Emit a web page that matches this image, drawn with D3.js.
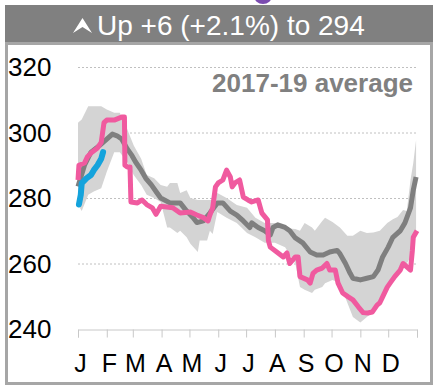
<!DOCTYPE html>
<html><head><meta charset="utf-8">
<script src="https://cdn.jsdelivr.net/npm/d3@7"></script>
<style>
html,body{margin:0;padding:0;background:#fff;}
svg{display:block;font-family:"Liberation Sans",Arial,sans-serif;}
</style></head>
<body>
<svg id="chart" width="440" height="391"></svg>
<script>
// ---- data ----
const headerText = "Up +6 (+2.1%) to 294";
const legendText = "2017-19 average";
const yTicks = [240, 260, 280, 300, 320];
const monthStarts = [0, 31, 59, 90, 120, 151, 181, 212, 243, 273, 304, 334, 365];
const monthLabels = ["J","F","M","A","M","J","J","A","S","O","N","D"];

// 2017-19 range band
const bandDays  = [0,4,11,17,25,31,39,45,53,60,68,74,82,89,96,99,107,110,117,121,129,131,139,142,145,150,160,171,182,191,201,212,223,234,239,244,252,255,263,266,274,282,290,296,304,311,318,325,333,339,344,350,354,358,361,364];
const bandUpper = [303,304,308,308,308,307,306,306,301,296,292,287,286,284,283.4,284.6,284.6,281.5,282.4,280,279.4,279.4,279.4,279.4,279.4,281.5,280,277.9,277,274,272.4,272.4,270.8,270.5,270,272.4,271,270,273,274,272.7,271,268.5,268.5,270,269.3,269.5,270,272.4,273.5,274.2,276.3,276,285.5,290.7,297.7];
const bandLower = [278,276,281,282,283,288,294,294,291,287,284,281,280,278.8,271,271,269.3,270,268,266,263.5,267,267,270,269,275.7,274,272.4,269.3,268,266.3,266.3,265,260,252.8,252,251,252,252.8,254,255,254,248,243.7,242,243.7,245.2,248,252.8,256,257,259,260,262,264,270];

// 2017-19 average
const avgDays   = [0,7,14,23,31,37,42,47,53,58,62,68,73,79,84,89,99,110,117,124,128,135,142,150,156,164,171,178,185,187,194,201,207,210,215,223,228,234,242,250,257,264,271,279,282,288,293,296,304,311,318,323,328,334,339,347,352,358,361,364];
const avgValues = [283.5,290,294,296,298,299.5,299,298,295,293,291,288.5,286,284,282,280,278.5,278.5,276,274,272.5,273,275.4,278.5,278.5,276,274.8,273,271,272.4,271,270,268.7,271,271.8,271,270,267.8,266.3,263.5,262.6,262.6,263.5,264,263,260,257,255.5,255,255.5,256,258,262,265,268,270,272.4,277,282.4,286.4];

// previous year
const prevDays   = [0,1,7,10,15,21,25,26,28,31,39,47,50,50.5,53,56,57,64,69,74,80,84,89,102,110,121,128,135,140,142,145,148,151,156,160,164,166,169,174,178,183,187,194,198,204,205,207,214,221,225,228,234,237,239,247,250,253,257,263,268,271,277,280,285,291,296,302,307,312,317,322,325,328,333,336,341,347,350,354,358,360,361,365];
const prevValues = [285.5,290,290.7,292.5,294,295.3,297,299,303,303.8,303.8,304.7,304.7,290,289.5,289.5,278.8,278.5,279.4,278,277,275,277.5,277,275.4,275.7,274.8,274,273,274.8,277,283.4,284.6,285.5,288.5,286.4,283.4,284.6,285.5,280.3,279.4,278.8,279.4,275.4,273.3,267,265,263.5,262,263.2,260,262,262,256,255,254,257,258,258.6,260,258,258,254,251,249.8,248.9,246.7,245,244.9,245.2,247.3,248,249.8,252.8,254,256,258,260,259,258,264,268,270];

// current year
const curDays   = [1,3,4,9,14,17,21,25,27];
const curValues = [278,281,284.5,286,287,288.5,290,292,294];

// ---- drawing ----
const svg = d3.select("#chart");
const x = d3.scaleLinear().domain([0, 365]).range([78, 417]);
const y = d3.scaleLinear().domain([240, 320]).range([329, 67]);

// purple bit of title above
svg.append("ellipse").attr("cx", 263).attr("cy", -4).attr("rx", 9).attr("ry", 8).attr("fill", "#7b4bb0");

// header
svg.append("rect").attr("x", 5).attr("y", 5).attr("width", 428).attr("height", 38).attr("fill", "#808080");
svg.append("path").attr("d", "M73,33 L82.5,18 L92,33 L82.5,27 Z").attr("fill", "#fff");
svg.append("text").attr("x", 97).attr("y", 35).attr("fill", "#fff")
  .attr("font-size", 28).text(headerText);

// frame
svg.append("rect").attr("x", 6.5).attr("y", 43.5).attr("width", 425).attr("height", 340)
  .attr("fill", "#fff").attr("stroke", "#a6a6a6").attr("stroke-width", 3);

// gridlines
svg.append("g").selectAll("line").data(yTicks.filter(t => t > 240)).join("line")
  .attr("x1", x(0)).attr("x2", x(365))
  .attr("y1", d => y(d) + 0.5).attr("y2", d => y(d) + 0.5)
  .attr("stroke", "#c0c0c0").attr("stroke-width", 1).attr("stroke-dasharray", "2,2");

// y labels
svg.append("g").selectAll("text").data(yTicks).join("text")
  .attr("x", 8).attr("y", d => y(d)).attr("dy", "0.36em")
  .attr("font-size", 26).attr("fill", "#000").text(d => d);

// x axis
const xAxis = d3.axisBottom(x).tickValues(monthStarts).tickSize(8).tickPadding(17)
  .tickFormat((d, i) => monthLabels[i] || "");
const gx = svg.append("g").attr("transform", `translate(0,${y(240) + 0.5})`).call(xAxis);
gx.select(".domain").attr("stroke", "#c8c8c8");
gx.selectAll(".tick line").attr("stroke", "#c8c8c8");
gx.selectAll(".tick text").attr("font-size", 25).attr("fill", "#000")
  .attr("font-family", "Liberation Sans, Arial, sans-serif").attr("dx", 2);

// legend text
svg.append("text").attr("x", 413).attr("y", 92).attr("text-anchor", "end")
  .attr("font-size", 26).attr("font-weight", "bold").attr("fill", "#808080").text(legendText);

// band
const band = bandDays.map((d, i) => ({d, lo: bandLower[i], hi: bandUpper[i]}));
svg.append("path").datum(band)
  .attr("d", d3.area().x(p => x(p.d)).y0(p => y(p.lo)).y1(p => y(p.hi)).curve(d3.curveLinear))
  .attr("fill", "#d4d4d4");

const line = d3.line().x(p => x(p[0])).y(p => y(p[1]));
// average
svg.append("path").datum(avgDays.map((d, i) => [d, avgValues[i]]))
  .attr("d", line).attr("fill", "none").attr("stroke", "#7f7f7f").attr("stroke-width", 5)
  .attr("stroke-linejoin", "round");
// previous year
svg.append("path").datum(prevDays.map((d, i) => [d, prevValues[i]]))
  .attr("d", line).attr("fill", "none").attr("stroke", "#f05a9f").attr("stroke-width", 5)
  .attr("stroke-linejoin", "round");
// current year
svg.append("path").datum(curDays.map((d, i) => [d, curValues[i]]))
  .attr("d", line).attr("fill", "none").attr("stroke", "#14a3dc").attr("stroke-width", 6)
  .attr("stroke-linejoin", "round").attr("stroke-linecap", "round");
</script>
</body></html>
